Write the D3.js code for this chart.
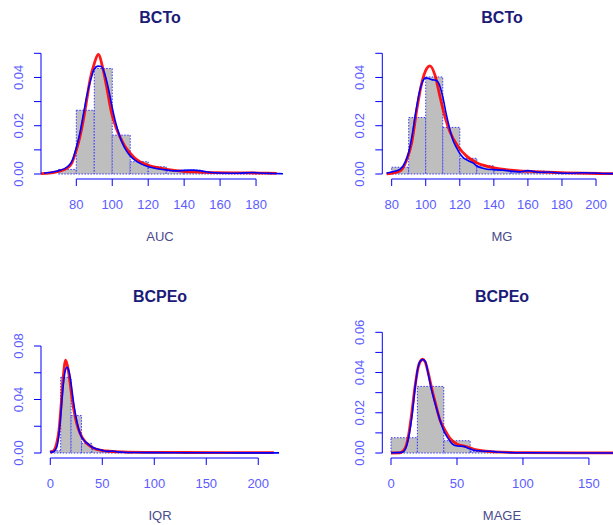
<!DOCTYPE html>
<html>
<head>
<meta charset="utf-8">
<script src="https://cdn.jsdelivr.net/npm/d3@7"></script>
<style>
  html, body { margin: 0; padding: 0; background: #ffffff; }
  svg { display: block; }
  text { font-family: "Liberation Sans", Arial, sans-serif; }
</style>
</head>
<body>
<svg id="chart" width="613" height="525"></svg>
<script>
// ---------- AUC (BCTo) ----------
const aucBreaks = [60, 70, 80, 90, 100, 110, 120, 130, 140, 150, 160, 170, 180, 190];
const aucDensity = [0, 0.0019, 0.0264, 0.0437, 0.0161, 0.0051, 0.0030, 0.0012, 0.0016, 0.0003, 0.0002, 0.0002, 0.0004];
const aucFitX = [60, 65, 69, 72, 74.6, 77.4, 80, 82, 83.9, 85.8, 87.6, 90, 92.2, 95, 96.9, 99.7, 102, 104.3, 107, 109.9, 112.5, 115.4, 121, 125.5, 130.3, 139.5, 148.8, 167, 182, 191.5];
const aucFitY = [0.0001, 0.0004, 0.0009, 0.0015, 0.0023, 0.0044, 0.0099, 0.0154, 0.0223, 0.0306, 0.0388, 0.0457, 0.0495, 0.0430, 0.0360, 0.0251, 0.0195, 0.0154, 0.0115, 0.0087, 0.0066, 0.0051, 0.0034, 0.0026, 0.0019, 0.0011, 0.0008, 0.0005, 0.0004, 0.0003];
const aucKdeX = [62, 65, 70, 75, 78, 80, 82, 84, 86, 88, 90, 92, 94, 96, 98, 100, 102, 104, 106, 108, 110, 113, 116, 120, 125, 130, 135, 140, 145, 150, 155, 160, 170, 178, 182, 190, 195];
const aucKdeY = [0.0003, 0.0006, 0.0013, 0.0030, 0.0060, 0.0110, 0.0170, 0.0250, 0.0330, 0.0390, 0.0435, 0.0447, 0.0445, 0.0410, 0.0350, 0.0275, 0.0210, 0.0160, 0.0122, 0.0095, 0.0075, 0.0055, 0.0042, 0.0030, 0.0022, 0.0017, 0.0013, 0.0015, 0.0016, 0.0012, 0.0006, 0.0004, 0.0003, 0.0006, 0.0004, 0.0002, 0.0001];

// ---------- MG (BCTo) ----------
const mgBreaks = [80, 90, 100, 110, 120, 130, 140, 150, 160, 170, 180, 190, 200, 210];
const mgDensity = [0.0028, 0.0234, 0.0402, 0.0193, 0.0065, 0.0034, 0.0015, 0.0008, 0.0012, 0.0006, 0.0003, 0.0005, 0.0002];
const mgFitX = [77, 80, 84.9, 88.8, 91.7, 94.7, 97.6, 100.6, 102.5, 105.4, 108.4, 111.3, 114.2, 119.1, 124, 129.9, 135.7, 143.6, 153.4, 163.2, 182.8, 202, 216];
const mgFitY = [0.0001, 0.0003, 0.0012, 0.0058, 0.0127, 0.0264, 0.0375, 0.0437, 0.0448, 0.0410, 0.0320, 0.0237, 0.0175, 0.0113, 0.0074, 0.0047, 0.0033, 0.0021, 0.0014, 0.0010, 0.0005, 0.0002, 0.0001];
const mgKdeX = [77, 80, 85, 88, 90, 92, 94, 96, 98, 100, 102, 104, 106, 108, 110, 112, 114, 116, 118, 120, 122, 125, 128, 130, 133, 136, 140, 145, 150, 155, 160, 163, 167, 172, 178, 185, 192, 198, 205, 216];
const mgKdeY = [0.0003, 0.0008, 0.0020, 0.0050, 0.0090, 0.0160, 0.0250, 0.0330, 0.0380, 0.0398, 0.0395, 0.0390, 0.0388, 0.0370, 0.0320, 0.0250, 0.0190, 0.0140, 0.0110, 0.0085, 0.0068, 0.0055, 0.0045, 0.0033, 0.0025, 0.0020, 0.0018, 0.0016, 0.0012, 0.0009, 0.0014, 0.0011, 0.0007, 0.0008, 0.0004, 0.0003, 0.0005, 0.0004, 0.0002, 0.0001];

// ---------- IQR (BCPEo) ----------
const iqrBreaks = [0, 10, 20, 30, 40, 50, 60, 70, 80, 90, 100, 110, 120, 130, 140, 150, 160, 170, 180, 190, 200, 210, 220];
const iqrDensity = [0.0017, 0.0566, 0.0280, 0.0072, 0.0025, 0.0010, 0.0005, 0.0002, 0, 0, 0, 0, 0, 0, 0, 0, 0, 0, 0, 0, 0, 0];
const iqrFitX = [0, 2.9, 6.1, 8.4, 10.3, 12.5, 14.8, 17.3, 19.9, 22.1, 25.4, 28.6, 33.4, 38.2, 44.6, 54.2, 70, 90, 120, 160, 215];
const iqrFitY = [0.0005, 0.0015, 0.0070, 0.0172, 0.0346, 0.0570, 0.0695, 0.0620, 0.0470, 0.0346, 0.0222, 0.0147, 0.0085, 0.0052, 0.0027, 0.0015, 0.0008, 0.0005, 0.0004, 0.0003, 0.0003];
const iqrKdeX = [0, 3, 6, 8, 10, 12, 14, 16, 18, 20, 22, 24, 26, 28, 30, 33, 36, 40, 45, 50, 55, 60, 65, 70, 80, 95, 120, 150, 180, 220];
const iqrKdeY = [0.0005, 0.0010, 0.0040, 0.0120, 0.0280, 0.0470, 0.0600, 0.0640, 0.0610, 0.0520, 0.0400, 0.0300, 0.0220, 0.0160, 0.0120, 0.0090, 0.0070, 0.0045, 0.0030, 0.0020, 0.0012, 0.0015, 0.0008, 0.0006, 0.0004, 0.0003, 0.0002, 0.0002, 0.0001, 0.0001];

// ---------- MAGE (BCPEo) ----------
const mageBreaks = [0, 20, 40, 60, 80, 100, 120, 140, 160, 180];
const mageDensity = [0.0076, 0.0331, 0.0061, 0.0007, 0, 0, 0, 0, 0];
const mageFitX = [0, 6.8, 10.6, 13.1, 15.7, 18.2, 20.7, 23.3, 23.8, 25.8, 28.3, 30.8, 33.4, 37.1, 40.9, 44.7, 49.8, 57.4, 65, 77.5, 100, 140, 180];
const mageFitY = [0, 0.0001, 0.0023, 0.0081, 0.0197, 0.0330, 0.0429, 0.0464, 0.0466, 0.0454, 0.0396, 0.0322, 0.0255, 0.0164, 0.0114, 0.0073, 0.0045, 0.0031, 0.0015, 0.0006, 0.0002, 0.0001, 0.0001];
const mageKdeX = [0, 8, 10, 12, 14, 16, 18, 20, 22, 24, 26, 28, 30, 32, 35, 38, 40, 43, 46, 50, 55, 58, 62, 66, 70, 76, 80, 90, 100, 180];
const mageKdeY = [0.0001, 0.0003, 0.0010, 0.0040, 0.0100, 0.0190, 0.0310, 0.0410, 0.0455, 0.0465, 0.0455, 0.0400, 0.0335, 0.0280, 0.0210, 0.0145, 0.0110, 0.0075, 0.0048, 0.0035, 0.0033, 0.0025, 0.0015, 0.0011, 0.0009, 0.0009, 0.0005, 0.0002, 0.0001, 0];

// ---------- panel text and axis ticks ----------
const panelTitles = ["BCTo", "BCTo", "BCPEo", "BCPEo"];
const panelXLabels = ["AUC", "MG", "IQR", "MAGE"];
const xTickValues = [[80, 100, 120, 140, 160, 180], [80, 100, 120, 140, 160, 180, 200], [0, 50, 100, 150, 200], [0, 50, 100, 150]];
const yTickValues = [[0, 0.01, 0.02, 0.03, 0.04, 0.05], [0, 0.01, 0.02, 0.03, 0.04, 0.05], [0, 0.02, 0.04, 0.06, 0.08], [0, 0.01, 0.02, 0.03, 0.04, 0.05, 0.06]];
const yTickLabels = [["0.00", "", "0.02", "", "0.04", ""], ["0.00", "", "0.02", "", "0.04", ""], ["0.00", "", "0.04", "", "0.08"], ["0.00", "", "0.02", "", "0.04", "", "0.06"]];

// ---------- layout of the 2x2 grid ----------
const panels = [
  { x0: 41,    x1: 283,   y0: 174, yTopVal: 0.05, yTopPx: 53.3,  xlim: [60.36, 195.0], breaks: aucBreaks,  dens: aucDensity,  fit: [aucFitX, aucFitY],   kde: [aucKdeX, aucKdeY] },
  { x0: 382.3, x1: 624.3, y0: 174, yTopVal: 0.05, yTopPx: 53.3,  xlim: [74.5, 216.6],  breaks: mgBreaks,   dens: mgDensity,   fit: [mgFitX, mgFitY],     kde: [mgKdeX, mgKdeY] },
  { x0: 41,    x1: 283,   y0: 453, yTopVal: 0.08, yTopPx: 346,   xlim: [-8.94, 223.8], breaks: iqrBreaks,  dens: iqrDensity,  fit: [iqrFitX, iqrFitY],   kde: [iqrKdeX, iqrKdeY] },
  { x0: 382.3, x1: 624.3, y0: 453, yTopVal: 0.06, yTopPx: 332.3, xlim: [-6.6, 176.8],  breaks: mageBreaks, dens: mageDensity, fit: [mageFitX, mageFitY], kde: [mageKdeX, mageKdeY] }
];

const AXIS_BLUE = "#0000ff";
const TICK_TEXT = "#5c5cff";
const LABEL_TEXT = "#4a4a8c";
const TITLE_TEXT = "#1b1b78";

const svg = d3.select("#chart");
const defs = svg.append("defs");

panels.forEach((p, i) => {
  const x = d3.scaleLinear().domain(p.xlim).range([p.x0, p.x1]);
  const y = d3.scaleLinear().domain([0, p.yTopVal]).range([p.y0, p.yTopPx]);
  const axisY = p.y0 + 5;
  const cx = (p.x0 + p.x1) / 2;
  const g = svg.append("g");

  defs.append("clipPath").attr("id", "clip" + i)
    .append("rect").attr("x", p.x0).attr("y", p.yTopPx - 40)
    .attr("width", p.x1 - p.x0).attr("height", axisY - p.yTopPx + 40);

  const plot = g.append("g").attr("clip-path", `url(#clip${i})`);

  // histogram bars (density scale), grey fill with dotted blue outline
  const bins = p.dens.map((d, k) => ({ a: p.breaks[k], b: p.breaks[k + 1], d }));
  plot.selectAll("rect.bar").data(bins).join("rect")
    .attr("class", "bar")
    .attr("x", d => x(d.a))
    .attr("y", d => y(d.d))
    .attr("width", d => x(d.b) - x(d.a))
    .attr("height", d => y(0) - y(d.d))
    .attr("fill", "#bebebe")
    .attr("stroke", "#3a3aff")
    .attr("stroke-width", 1)
    .attr("stroke-dasharray", "1.5,1.5");

  const line = d3.line().x(d => x(d[0])).y(d => y(d[1])).curve(d3.curveMonotoneX);
  const fitPts = p.fit[0].map((v, k) => [v, p.fit[1][k]]);
  const kdePts = p.kde[0].map((v, k) => [v, p.kde[1][k]]);

  // fitted distribution curve
  plot.append("path").datum(fitPts).attr("d", line)
    .attr("fill", "none").attr("stroke", "#ff0000").attr("stroke-width", 2.8)
    .attr("stroke-linejoin", "round").attr("stroke-opacity", 0.9);
  // kernel density estimate
  plot.append("path").datum(kdePts).attr("d", line)
    .attr("fill", "none").attr("stroke", "#0000ff").attr("stroke-width", 1.6)
    .attr("stroke-linejoin", "round");

  // x axis
  const xt = xTickValues[i];
  const xAxis = g.append("g");
  xAxis.append("line")
    .attr("x1", x(xt[0])).attr("x2", x(xt[xt.length - 1]))
    .attr("y1", axisY).attr("y2", axisY)
    .attr("stroke", AXIS_BLUE).attr("stroke-width", 1);
  xAxis.selectAll("line.tk").data(xt).join("line").attr("class", "tk")
    .attr("x1", d => x(d)).attr("x2", d => x(d))
    .attr("y1", axisY).attr("y2", axisY + 7)
    .attr("stroke", AXIS_BLUE).attr("stroke-width", 1);
  xAxis.selectAll("text").data(xt).join("text")
    .attr("x", d => x(d)).attr("y", axisY + 29.5)
    .attr("text-anchor", "middle").attr("font-size", 13)
    .attr("fill", TICK_TEXT).text(d => d);

  // y axis
  const yt = yTickValues[i];
  const yAxis = g.append("g");
  yAxis.append("line")
    .attr("x1", p.x0).attr("x2", p.x0)
    .attr("y1", y(yt[0])).attr("y2", y(yt[yt.length - 1]))
    .attr("stroke", AXIS_BLUE).attr("stroke-width", 1);
  yAxis.selectAll("line.tk").data(yt).join("line").attr("class", "tk")
    .attr("x1", p.x0 - 7).attr("x2", p.x0)
    .attr("y1", d => y(d)).attr("y2", d => y(d))
    .attr("stroke", AXIS_BLUE).attr("stroke-width", 1);
  yAxis.selectAll("text").data(yt).join("text")
    .attr("transform", d => `translate(${p.x0 - 18.5},${y(d)}) rotate(-90)`)
    .attr("text-anchor", "middle").attr("font-size", 13)
    .attr("fill", TICK_TEXT).text((d, k) => yTickLabels[i][k]);

  // titles
  const titleY = i < 2 ? 22.5 : 301.5;
  g.append("text").attr("x", i % 2 === 0 ? 160 : 502).attr("y", titleY)
    .attr("text-anchor", "middle").attr("font-size", 16).attr("font-weight", "bold")
    .attr("fill", TITLE_TEXT).text(panelTitles[i]);
  g.append("text").attr("x", i % 2 === 0 ? 160 : 502).attr("y", axisY + 61.5)
    .attr("text-anchor", "middle").attr("font-size", 13)
    .attr("fill", LABEL_TEXT).text(panelXLabels[i]);
});
</script>
</body>
</html>
